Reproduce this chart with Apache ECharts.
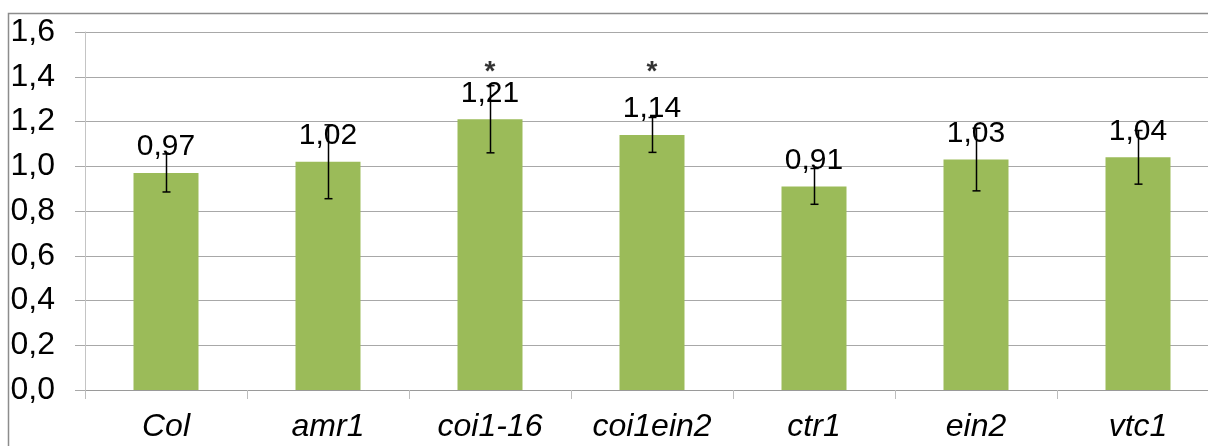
<!DOCTYPE html>
<html>
<head>
<meta charset="utf-8">
<script src="https://cdn.jsdelivr.net/npm/echarts@6/dist/echarts.min.js"></script>
<style>html,body{margin:0;padding:0;background:#fff;}#c{width:1208px;height:446px;}</style>
</head>
<body>
<div id="c"></div>
<script>
var categories = ['Col', 'amr1', 'coi1-16', 'coi1ein2', 'ctr1', 'ein2', 'vtc1'];
var values = [0.97, 1.02, 1.21, 1.14, 0.91, 1.03, 1.04];
var errors = [0.085, 0.165, 0.15, 0.078, 0.08, 0.14, 0.12];
var significance = ['', '', '*', '*', '', '', ''];
var significanceLevel = 1.42;
var yTicks = [0, 0.2, 0.4, 0.6, 0.8, 1.0, 1.2, 1.4, 1.6];

function fmt(v, d) { return v.toFixed(d).replace('.', ','); }

var sigData = [];
significance.forEach(function (s, i) { if (s) sigData.push([i, significanceLevel, s]); });

var chart = echarts.init(document.getElementById('c'));
chart.setOption({
  animation: false,
  textStyle: { fontFamily: 'Liberation Sans, Arial, sans-serif' },
  graphic: [{
    type: 'rect', silent: true, z: -10,
    shape: { x: 8.5, y: 13.5, width: 1300, height: 500 },
    style: { fill: 'none', stroke: '#8c8c8c', lineWidth: 1.5 }
  }],
  grid: { left: 85, top: 32, height: 358, width: 1134, containLabel: false, outerBoundsMode: 'none' },
  xAxis: {
    type: 'category',
    data: categories,
    axisLine: { lineStyle: { color: '#9a9a9a', width: 1 } },
    axisTick: { show: true, length: 9, alignWithLabel: false, lineStyle: { color: '#bdbdbd' } },
    axisLabel: { fontSize: 32, fontStyle: 'italic', color: '#000', margin: 21, interval: 0 }
  },
  yAxis: {
    type: 'value',
    min: yTicks[0], max: yTicks[yTicks.length - 1], interval: 0.2,
    axisLine: { show: true, lineStyle: { color: '#c4c4c4', width: 1 } },
    axisTick: { show: true, length: 10, lineStyle: { color: '#a8a8a8' } },
    splitLine: { lineStyle: { color: '#a8a8a8', width: 1 } },
    axisLabel: { fontSize: 32, color: '#000', margin: 30, formatter: function (v) { return fmt(v, 1); } }
  },
  series: [{
    type: 'bar',
    data: values,
    barWidth: 65,
    itemStyle: { color: '#9bbb59' },
    label: {
      show: true, position: 'top', distance: 11,
      fontSize: 30, color: '#000', lineHeight: 30,
      formatter: function (p) { return fmt(p.value, 2); }
    }
  }, {
    type: 'custom',
    z: 5,
    data: values.map(function (v, i) { return [i, v - errors[i], v + errors[i]]; }),
    renderItem: function (params, api) {
      var x = api.value(0);
      var lo = api.coord([x, api.value(1)]);
      var hi = api.coord([x, api.value(2)]);
      var cx = Math.round(lo[0]) + 0.5;
      var cap = 4;
      var st = { stroke: '#000', lineWidth: 1.5 };
      return {
        type: 'group',
        children: [
          { type: 'line', shape: { x1: cx, y1: hi[1], x2: cx, y2: lo[1] }, style: st },
          { type: 'line', shape: { x1: cx - cap, y1: hi[1], x2: cx + cap, y2: hi[1] }, style: st },
          { type: 'line', shape: { x1: cx - cap, y1: lo[1], x2: cx + cap, y2: lo[1] }, style: st }
        ]
      };
    }
  }, {
    type: 'scatter',
    data: sigData,
    symbolSize: 0,
    silent: true,
    label: {
      show: true, position: 'inside',
      fontSize: 28, fontWeight: 'bold', color: '#000',
      formatter: function (p) { return p.value[2]; }
    }
  }]
});
</script>
</body>
</html>
